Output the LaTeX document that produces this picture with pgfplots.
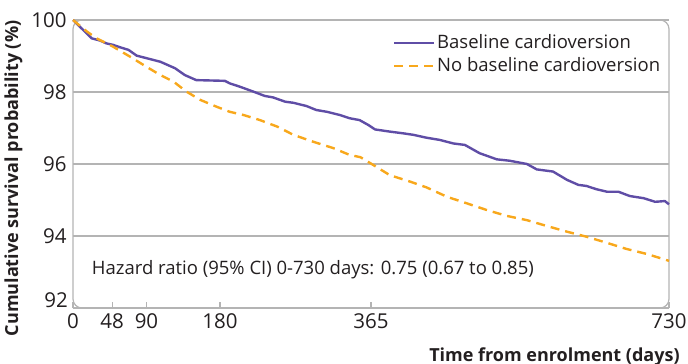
\documentclass[border=0pt]{standalone}
\usepackage{fontspec}
\setmainfont{Open Sans}
\usepackage{pgfplots}
\pgfplotsset{compat=1.18}
\definecolor{cvpurple}{HTML}{5F4DA6}
\definecolor{cvorange}{HTML}{F8A81C}
\definecolor{gridgray}{HTML}{B4B4B4}
\definecolor{txt}{HTML}{231F20}
\begin{document}
\fontsize{18.5bp}{22bp}\selectfont
\begin{tikzpicture}
\useasboundingbox (0,0) rectangle (688bp,364bp);
\begin{axis}[
  at={(73bp,56bp)}, anchor=south west,
  scale only axis, width=596bp, height=288bp,
  xmin=0, xmax=730, ymin=92, ymax=100,
  clip=false,
  xtick={0,48,90,180,365,730},
  ytick={92,94,96,98,100},
  yticklabels={{},94,96,98,100},
  /pgf/number format/assume math mode=true,
  tick label style={font=\fontsize{20.5bp}{22bp}\selectfont, text=txt},
  xticklabel style={yshift=1bp},
  yticklabel style={xshift=0bp},
  axis line style={draw=none},
  axis background/.style={draw=gridgray, line width=1.2bp, rounded corners=9bp},
  ymajorgrids, grid style={gridgray, line width=1.2bp},
  xtick pos=bottom, ytick pos=left,
  tick align=inside,
  xtick style={gridgray, line width=1.1bp},
  major tick length=6bp,
  ytick style={draw=none},
  xlabel={Time from enrolment (days)},
  xlabel style={at={(rel axis cs:1,0)}, anchor=north east, xshift=17bp, yshift=-33bp, font=\fontsize{18bp}{20bp}\selectfont\bfseries, text=txt},
  ylabel={Cumulative survival probability (\%)},
  ylabel style={at={(rel axis cs:-0.1,0.45)}, anchor=center, font=\fontsize{18bp}{20bp}\selectfont\bfseries, text=txt},
  legend style={at={(rel axis cs:0.988,0.955)}, anchor=north east, draw=none, fill=none,
    font=\fontsize{18.5bp}{22bp}\selectfont, text=txt, row sep=3bp,
    inner sep=0pt, nodes={inner sep=1.5bp}},
  legend cell align=left,
  legend image code/.code={\draw[#1] (0bp,0bp) -- (40bp,0bp);},
]
\addplot[cvpurple, line width=2.4bp] coordinates {
(0,100) (23,99.49) (33,99.43) (41,99.35) (49,99.31) (58,99.24) (68,99.17) (78,99.01)
(90,98.94) (107,98.84) (125,98.66) (137,98.47) (151,98.33) (186,98.31) (192,98.24)
(204,98.15) (221,98.01) (235,97.89) (245,97.85) (260,97.73) (270,97.70) (286,97.61)
(298,97.50) (311,97.45) (327,97.36) (339,97.27) (351,97.22) (362,97.08) (370,96.96)
(388,96.90) (405,96.85) (417,96.81) (433,96.73) (449,96.67) (466,96.57) (480,96.53)
(498,96.30) (519,96.13) (535,96.09) (556,96.00) (568,95.85) (588,95.79) (605,95.56)
(619,95.42) (629,95.39) (641,95.30) (654,95.23) (668,95.23) (682,95.11) (699,95.05)
(713,94.95) (725,94.97) (730,94.88)
};
\addlegendentry{Baseline cardioversion}
\addplot[cvorange, line width=2.4bp, dash pattern=on 9bp off 6bp] coordinates {
(0,100) (17,99.68) (29,99.49) (49,99.26) (70,98.98) (90,98.70) (107,98.47) (123,98.29)
(139,98.01) (156,97.78) (176,97.59) (192,97.45) (209,97.36) (229,97.22) (250,97.04)
(270,96.81) (294,96.62) (319,96.44) (339,96.25) (352,96.19) (368,95.97) (388,95.69)
(413,95.51) (433,95.35) (458,95.09) (482,94.91) (507,94.72) (531,94.56) (556,94.44)
(580,94.28) (605,94.12) (629,93.98) (654,93.81) (678,93.64) (703,93.50) (730,93.31)
};
\addlegendentry{No baseline cardioversion}
\node[anchor=east, font=\fontsize{20.5bp}{22bp}\selectfont, text=txt, inner sep=0pt] at ([xshift=-5bp,yshift=8bp]axis cs:0,92) {92};
\node[anchor=west, text=txt, inner sep=0pt] at (axis cs:23,93.06) {Hazard ratio (95\% CI) 0-730 days: 0.75 (0.67 to 0.85)};
\end{axis}
\end{tikzpicture}
\end{document}
